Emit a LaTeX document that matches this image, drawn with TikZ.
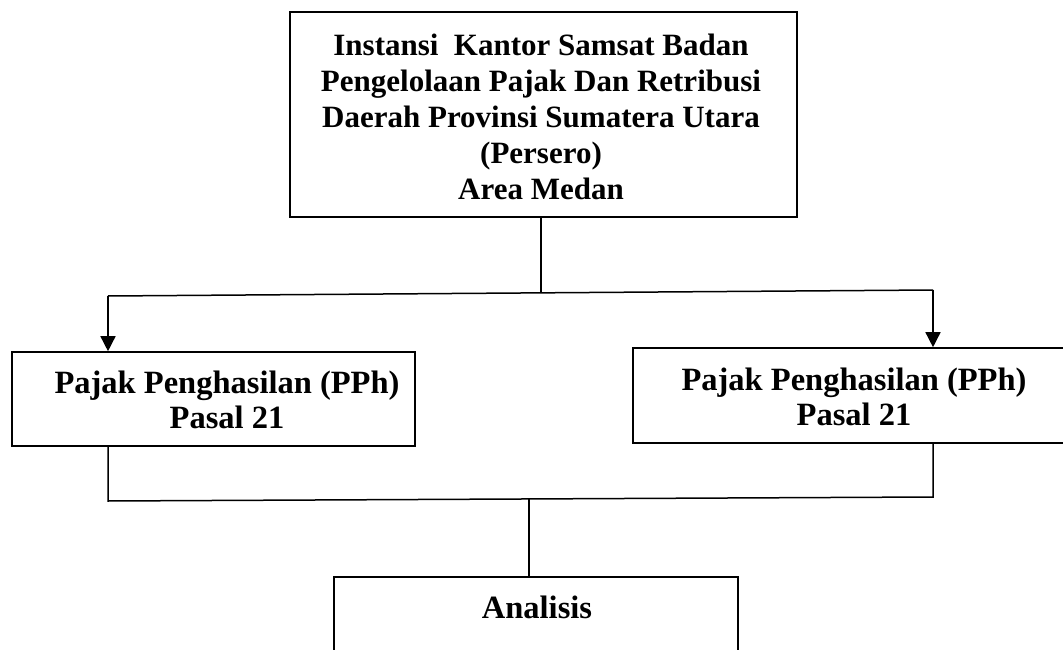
\documentclass[tikz,border=0pt]{standalone}
\usepackage{fontspec}
\setmainfont{Liberation Serif}
\usetikzlibrary{arrows.meta}
\begin{document}
\begin{tikzpicture}[x=1pt,y=-1pt,
  box/.style={draw=black,line width=1.6pt,inner sep=0pt,rectangle},
  txt/.style={align=center,inner sep=0pt,font=\fontsize{31}{36}\selectfont\bfseries},
  txtb/.style={align=center,inner sep=0pt,font=\fontsize{32.5}{35}\selectfont\bfseries},
  conn/.style={draw=black,line width=1.5pt},
  arr/.style={conn,-{Triangle[length=15pt,width=15pt]}}]
\useasboundingbox (0,0) rectangle (1063,650);
% boxes
\node[box,minimum width=507pt,minimum height=205pt] (top) at (543.5,114.5) {};
\node[box,minimum width=403pt,minimum height=94pt] (left) at (213.5,399) {};
\node[box,minimum width=438pt,minimum height=95pt] (right) at (852,395.5) {};
\node[box,minimum width=404pt,minimum height=123pt] (bottom) at (536,638.5) {};
% texts
\node[txt] (toptext) at (541,117) {Instansi\ \ Kantor Samsat Badan\\Pengelolaan Pajak Dan Retribusi\\Daerah Provinsi Sumatera Utara\\(Persero)\\Area Medan};
\node[txtb] (lefttext) at (227,400) {Pajak Penghasilan (PPh)\\Pasal 21};
\node[txtb] (righttext) at (854,396.5) {Pajak Penghasilan (PPh)\\Pasal 21};
\node[txtb] (bottomtext) at (537,607) {Analisis};
% junction coordinates
\coordinate (j1) at (541,293);
\coordinate (hl) at (108,296);
\coordinate (hr) at (933,290);
\coordinate (ll) at (108,501);
\coordinate (lr) at (933,497);
\coordinate (j2) at (529,499);
% connectors
\draw[conn] (top.south -| j1) -- (j1);
\draw[conn] (hl) -- (hr);
\draw[arr] (hl) -- (hl |- left.north);
\draw[arr] (hr) -- (hr |- right.north);
\draw[conn] (left.south -| ll) -- (ll) -- (lr) -- (right.south -| lr);
\draw[conn] (j2) -- (j2 |- bottom.north);
\end{tikzpicture}
\end{document}
